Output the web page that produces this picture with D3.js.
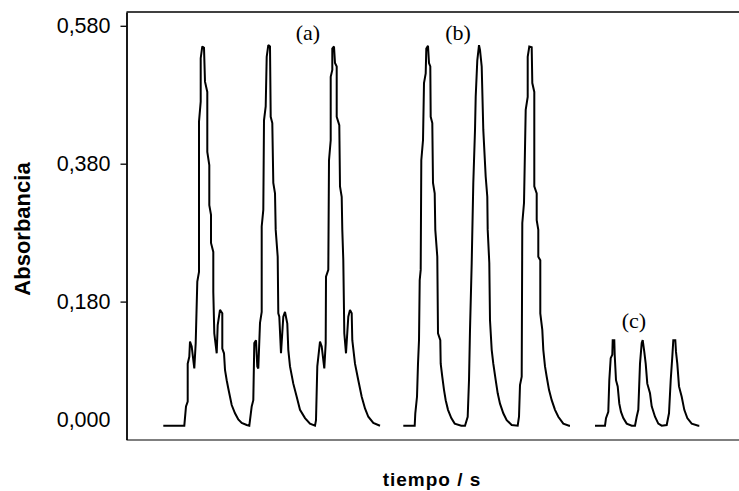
<!DOCTYPE html>
<html><head><meta charset="utf-8">
<script src="https://cdn.jsdelivr.net/npm/d3@7"></script>
<style>
body{margin:0;background:#fff;}
svg{display:block;}
</style></head>
<body>
<svg id="chart" width="739" height="491"></svg>
<script>
// ---- data (time in s, absorbance) ----
const timeA = [37.3,58.3,60,61.7,61.7,63.3,64,65.7,68.3,69.7,71.3,73,73,74.7,74.7,76.3,78,79,81.3,81.3,83.3,83.3,85,85,87.3,87.3,88.3,90.7,91.7,94,96.3,96.3,98,99,100.7,102.3,104,105.7,109,112.3,115.7,120.7,123.3,
 124,125.7,127.3,128.3,130,131.3,132.3,134,135.7,135.7,137.3,138,139.7,140.7,142.3,144,144.7,146.3,147.3,149,149.7,151.7,152.3,153.3,155,157.3,159,161.3,162.3,164,167.3,170.7,174,179,184,189,
 190,191.3,194,195.7,198.3,199.7,200,202.3,203,204.7,204.7,206.3,206.3,208,209,210.7,210.7,213.3,214,215.7,216.3,217.3,218.3,220,222.3,224,225.7,226.3,229,232.3,235.7,239,242.3,247.3,254];
const absA = [0,0,0.028,0.035,0.09,0.10,0.122,0.115,0.083,0.12,0.209,0.223,0.441,0.47,0.533,0.55,0.548,0.499,0.484,0.397,0.378,0.32,0.306,0.265,0.252,0.194,0.134,0.105,0.146,0.168,0.163,0.112,0.105,0.081,0.066,0.054,0.042,0.03,0.018,0.009,0.004,0.001,0,
 0.008,0.028,0.037,0.12,0.124,0.086,0.083,0.149,0.165,0.289,0.313,0.443,0.463,0.535,0.552,0.55,0.448,0.439,0.352,0.337,0.284,0.245,0.163,0.158,0.105,0.158,0.165,0.148,0.11,0.086,0.061,0.042,0.023,0.011,0.003,0,
 0.008,0.086,0.122,0.115,0.083,0.12,0.216,0.226,0.385,0.414,0.506,0.516,0.547,0.55,0.526,0.521,0.448,0.436,0.347,0.332,0.284,0.24,0.134,0.105,0.158,0.168,0.163,0.124,0.09,0.066,0.042,0.025,0.013,0.004,0];

const timeB = [277.3,288.7,289.3,291,292,293,293.7,294.7,295.3,297,298,299.7,300.3,302,303,304.3,304.7,306.3,307,308.7,309.3,311.3,312,314.3,314.7,316.3,318,319.7,322,325.3,328.7,335.3,339,
 341.7,343,344,345.7,347.3,349,349.7,351.3,353,354,355.7,357.3,359.7,361.3,361.7,363.3,364,365.7,367.3,369.7,371.7,374,377.3,380.7,385.7,391.7,
 393,394,395.7,396.3,398,399.7,401.7,401.7,403.3,405.7,406.3,408.3,408.3,410.7,410.7,412.3,412.3,414.3,414.3,416.3,417.3,419,420.7,423,425.7,429,432.3,437.3,443,444];
const absB = [0,0,0.018,0.042,0.09,0.124,0.211,0.226,0.385,0.414,0.497,0.511,0.547,0.551,0.526,0.521,0.448,0.439,0.352,0.337,0.284,0.245,0.134,0.124,0.09,0.071,0.052,0.037,0.023,0.011,0.003,0,0,
 0.013,0.066,0.139,0.236,0.352,0.429,0.477,0.53,0.552,0.545,0.521,0.429,0.361,0.332,0.284,0.236,0.153,0.11,0.09,0.066,0.047,0.032,0.018,0.008,0.001,0,
 0.013,0.059,0.071,0.294,0.323,0.458,0.477,0.535,0.55,0.549,0.497,0.484,0.347,0.337,0.298,0.284,0.245,0.24,0.163,0.139,0.11,0.086,0.071,0.052,0.037,0.023,0.013,0.003,0,0];

const timeC = [469,479,480,482.3,483.3,484.7,486.3,486.7,488.3,488.7,490,491.7,493.3,495,497.3,500.7,505.7,
 509,510.7,512.3,514,515.7,516.7,518.3,519.7,521.3,524,525.7,529,532.3,535.7,
 540.7,543,544.7,546.3,547.3,549.3,550,551.3,553,555.7,558.3,561.3,565.7,572.3,573.3];
const absC = [0,0,0.011,0.02,0.066,0.098,0.103,0.124,0.124,0.103,0.066,0.057,0.032,0.02,0.011,0.003,0,
 0,0.013,0.023,0.09,0.12,0.124,0.107,0.09,0.061,0.047,0.028,0.013,0.003,0,
 0.001,0.018,0.066,0.1,0.124,0.124,0.107,0.09,0.057,0.042,0.023,0.011,0.003,0,0];

const yTicks = [0.18, 0.38, 0.58];
const zeroLabel = "0,000";
const annotations = ["(a)", "(b)", "(c)"];
const annotTime = [182, 332, 508];
const annotAbs = [0.56, 0.56, 0.142];

// ---- layout ----
const svg = d3.select("#chart");
const pLeft = 126.5, pRight = 739.5, pTop = 12, pBottom = 439.5;

const x = d3.scaleLinear().domain([0, 613]).range([126, 739]);
const y = d3.scaleLinear().domain([-0.02, 0.60]).range([pBottom, pTop]);

// frame (top border of the plot area)
svg.append("line").attr("x1", pLeft).attr("x2", pRight).attr("y1", pTop).attr("y2", pTop)
  .attr("stroke", "#000").attr("stroke-width", 1.5);

// bottom axis (no ticks)
const gx = svg.append("g").attr("transform", `translate(0,${pBottom})`)
  .call(d3.axisBottom(x).tickValues([]).tickSizeOuter(0));
gx.select(".domain").attr("stroke", "#555").attr("stroke-width", 1.5);

// left axis
const fmt = d => d.toFixed(3).replace(".", ",");
const gy = svg.append("g").attr("transform", `translate(${pLeft},0)`)
  .call(d3.axisLeft(y).tickValues(yTicks).tickFormat(fmt).tickSize(6).tickPadding(10).tickSizeOuter(0));
gy.select(".domain").attr("stroke", "#000").attr("stroke-width", 1.8);
gy.selectAll(".tick line").attr("stroke", "#000").attr("stroke-width", 1.3);
gy.selectAll(".tick text").attr("font-family", "Arial, 'Liberation Sans', sans-serif")
  .attr("font-size", 21.5).attr("fill", "#000");

svg.append("text").attr("x", pLeft - 16).attr("y", y(0) + 1)
  .attr("text-anchor", "end").attr("font-family", "Arial, 'Liberation Sans', sans-serif")
  .attr("font-size", 21.5).attr("fill", "#000").text(zeroLabel);

// axis titles
svg.append("text").attr("transform", `translate(30,229) rotate(-90)`)
  .attr("text-anchor", "middle").attr("font-family", "Arial, 'Liberation Sans', sans-serif")
  .attr("font-weight", "bold").attr("font-size", 22).text("Absorbancia");
svg.append("text").attr("x", 432).attr("y", 486)
  .attr("text-anchor", "middle").attr("font-family", "Arial, 'Liberation Sans', sans-serif")
  .attr("font-weight", "bold").attr("font-size", 19).attr("letter-spacing", 1).text("tiempo / s");

// traces
const line = d3.line().x(d => x(d[0])).y(d => y(d[1]));
[[timeA, absA], [timeB, absB], [timeC, absC]].forEach(([t, a]) => {
  svg.append("path").datum(d3.zip(t, a)).attr("d", line)
    .attr("fill", "none").attr("stroke", "#000").attr("stroke-width", 2)
    .attr("stroke-linejoin", "miter").attr("stroke-miterlimit", 2);
});

// annotations
annotations.forEach((s, i) => {
  svg.append("text").attr("x", x(annotTime[i])).attr("y", y(annotAbs[i]))
    .attr("text-anchor", "middle").attr("font-family", "'Times New Roman', 'Liberation Serif', serif")
    .attr("font-size", 22).attr("fill", "#000").text(s);
});
</script>
</body></html>
